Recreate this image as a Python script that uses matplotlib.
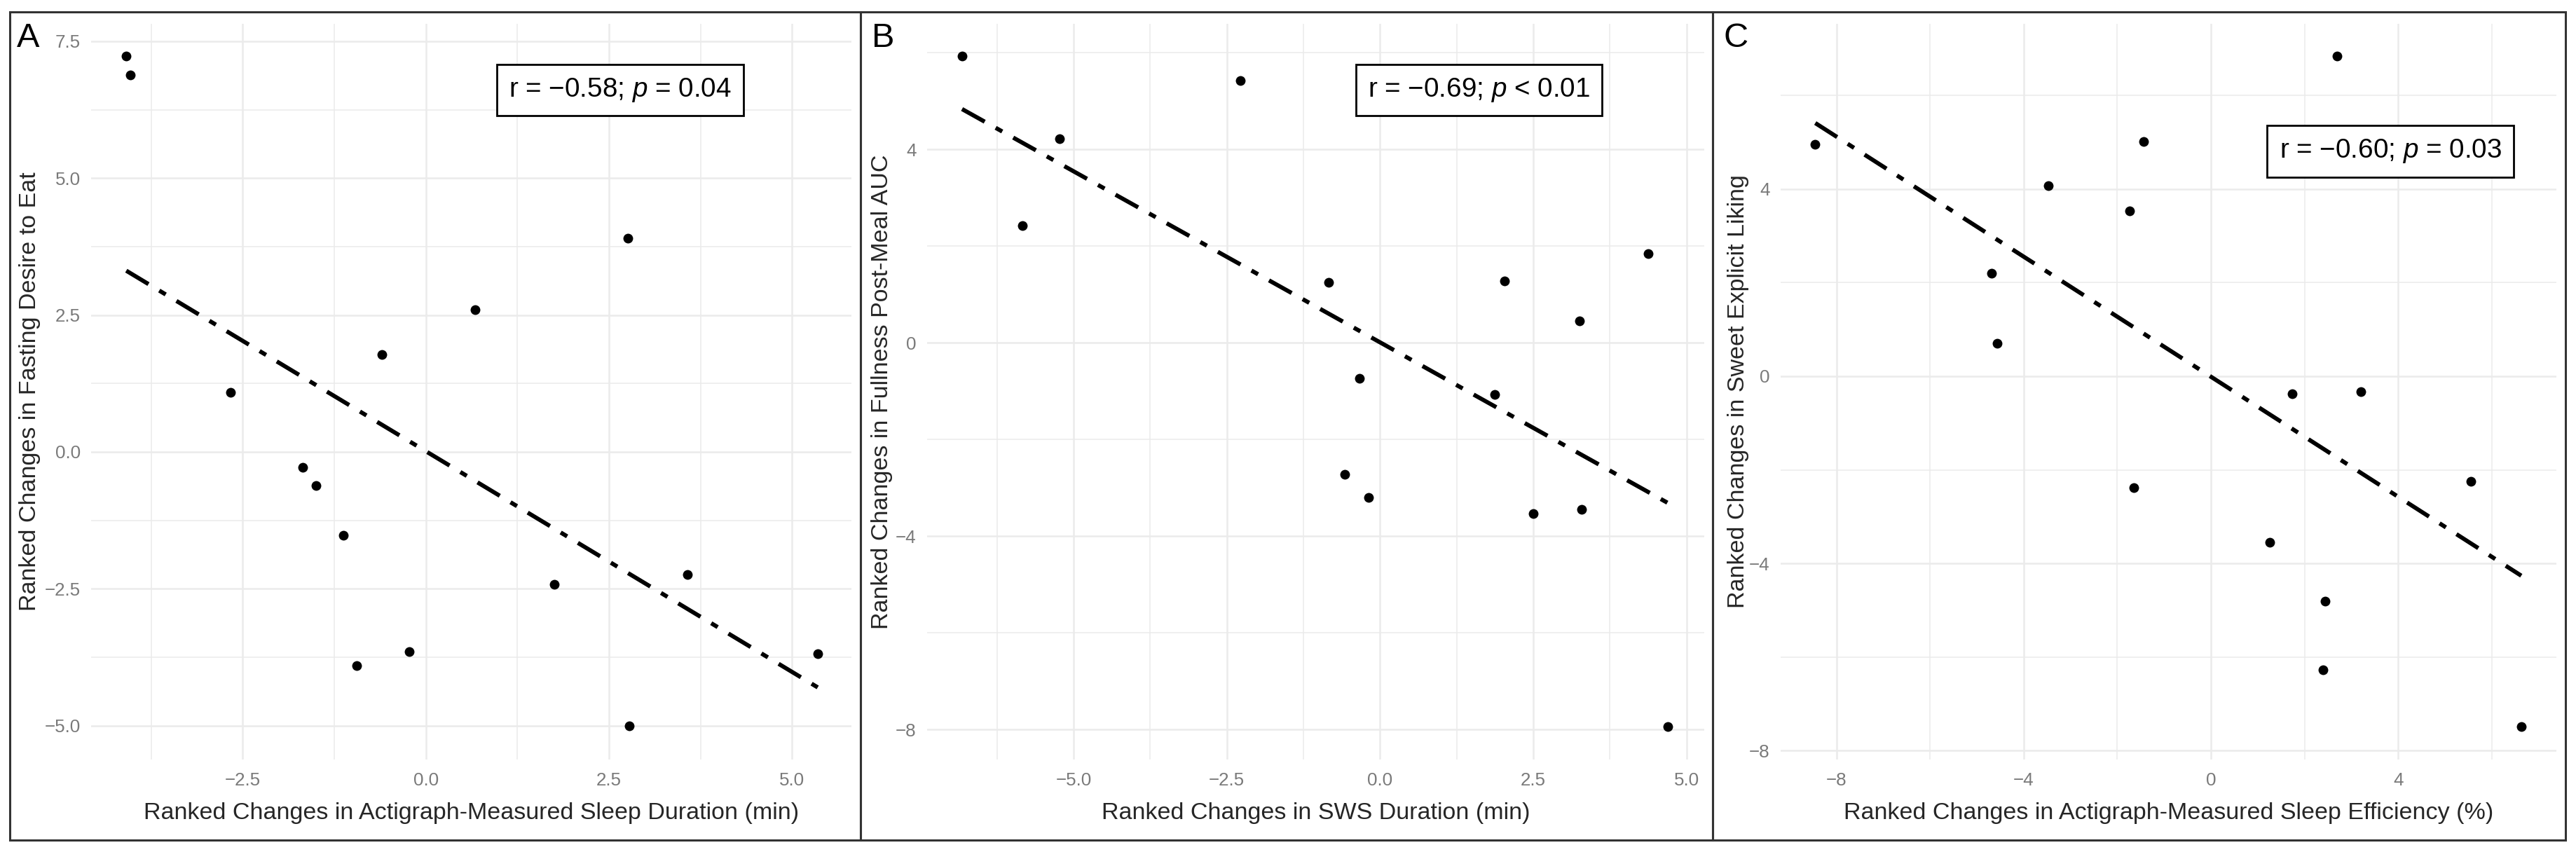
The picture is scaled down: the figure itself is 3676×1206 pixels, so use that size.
import matplotlib
matplotlib.use("Agg")
import matplotlib.pyplot as plt
from matplotlib.patches import Rectangle
import numpy as np

plt.rcParams['font.family'] = ['Liberation Sans', 'DejaVu Sans']
plt.rcParams['mathtext.fontset'] = 'custom'
plt.rcParams['mathtext.rm'] = 'Liberation Sans'
plt.rcParams['mathtext.it'] = 'Liberation Sans:italic'
plt.rcParams['axes.unicode_minus'] = True

# ---- data ----
# Panel A: sleep duration vs fasting desire to eat
a_x = [-4.09, -4.03, -2.67, -0.60, 0.67, 2.76, -1.68, -1.50, -1.13, -0.94, -0.23, 1.75, 3.57, 2.78, 5.35]
a_y = [7.23, 6.89, 1.09, 1.78, 2.60, 3.90, -0.28, -0.61, -1.52, -3.91, -3.65, -2.42, -2.24, -5.00, -3.69]

# Panel B: SWS duration vs fullness post-meal AUC
b_x = [-6.82, -5.23, -5.83, -2.28, -0.84, 2.03, 4.38, 3.26, -0.33, 1.87, -0.58, -0.19, 2.50, 3.29, 4.70]
b_y = [5.93, 4.23, 2.43, 5.43, 1.25, 1.28, 1.84, 0.46, -0.74, -1.07, -2.72, -3.20, -3.53, -3.44, -7.94]

# Panel C: sleep efficiency vs sweet explicit liking
c_x = [-8.45, -3.47, -1.74, -4.69, -4.56, -1.43, 2.69, 1.73, 3.21, -1.64, 1.26, 2.44, 2.40, 5.56, 6.63]
c_y = [4.96, 4.07, 3.53, 2.20, 0.71, 5.02, 6.84, -0.37, -0.33, -2.38, -3.55, -4.80, -6.28, -2.25, -7.48]

x_labels = ["Ranked Changes in Actigraph-Measured Sleep Duration (min)",
            "Ranked Changes in SWS Duration (min)",
            "Ranked Changes in Actigraph-Measured Sleep Efficiency (%)"]
y_labels = ["Ranked Changes in Fasting Desire to Eat",
            "Ranked Changes in Fullness Post-Meal AUC",
            "Ranked Changes in Sweet Explicit Liking"]
stats = ["r = \u22120.58; $p$ = 0.04",
         "r = \u22120.69; $p$ < 0.01",
         "r = \u22120.60; $p$ = 0.03"]
letters = ["A", "B", "C"]

x_major = [[-2.5, 0.0, 2.5, 5.0], [-5.0, -2.5, 0.0, 2.5, 5.0], [-8, -4, 0, 4]]
x_minor = [[-3.75, -1.25, 1.25, 3.75], [-6.25, -3.75, -1.25, 1.25, 3.75], [-6, -2, 2, 6]]
y_major = [[-5.0, -2.5, 0.0, 2.5, 5.0, 7.5], [-8, -4, 0, 4], [-8, -4, 0, 4]]
y_minor = [[-3.75, -1.25, 1.25, 3.75, 6.25], [-6, -2, 2, 6], [-6, -2, 2, 6]]
fmt = ["{:.1f}", "{:.0f}", "{:.0f}"]
x_fmt = ["{:.1f}", "{:.1f}", "{:.0f}"]

W, H = 3676, 1206
fig = plt.figure(figsize=(W / 100, H / 100), dpi=100)

# axes boxes in pixels (left, right), shared top/bottom
ax_px = [(130, 1215), (1323, 2432), (2541, 3648)]
top_px, bot_px = 34, 1084
xlims = [(-4.57, 5.81), (-7.39, 5.29), (-9.19, 7.38)]
ylims = [(-5.62, 7.82), (-8.62, 6.60), (-8.19, 7.53)]
stat_pos = [(0.696, 0.910), (0.710, 0.910), (0.786, 0.827)]
ylab_x = [-0.0724, -0.0505, -0.047]
letter_px = [24, 1244, 2460]
border_px = [(14, 1228), (1228, 2444), (2444, 3661)]

grid_c = '#ebebeb'
data = [(a_x, a_y), (b_x, b_y), (c_x, c_y)]

for i, (xs, ys) in enumerate(data):
    l, r = ax_px[i]
    ax = fig.add_axes([l / W, 1 - bot_px / H, (r - l) / W, (bot_px - top_px) / H])
    ax.set_xlim(*xlims[i])
    ax.set_ylim(*ylims[i])
    for s in ax.spines.values():
        s.set_visible(False)

    # grid (theme_minimal look)
    for v in x_minor[i]:
        ax.axvline(v, color=grid_c, lw=1.1, zorder=0)
    for v in y_minor[i]:
        ax.axhline(v, color=grid_c, lw=1.1, zorder=0)
    for v in x_major[i]:
        ax.axvline(v, color=grid_c, lw=1.8, zorder=0)
    for v in y_major[i]:
        ax.axhline(v, color=grid_c, lw=1.8, zorder=0)

    ax.set_xticks(x_major[i])
    ax.set_xticklabels([x_fmt[i].format(v).replace('-', '\u2212') for v in x_major[i]])
    ax.set_yticks(y_major[i])
    ax.set_yticklabels([fmt[i].format(v).replace('-', '\u2212') for v in y_major[i]])
    ax.tick_params(axis='both', length=0, labelsize=18.7, labelcolor='#7a7a7a')
    ax.tick_params(axis='x', pad=13)
    ax.tick_params(axis='y', pad=11)

    ax.scatter(xs, ys, s=100, color='black', zorder=3, linewidths=0)

    # linear fit, dot-dash
    k, b = np.polyfit(xs, ys, 1)
    xx = np.array([min(xs), max(xs)])
    ax.plot(xx, k * xx + b, color='black', lw=4.3, dashes=(6.2, 3.0, 1.8, 3.0), zorder=2)

    ax.set_xlabel(x_labels[i], fontsize=24.5, color='#262626', va='baseline')
    ax.xaxis.set_label_coords(0.5, -(1169 - bot_px) / (bot_px - top_px))
    ax.set_ylabel(y_labels[i], fontsize=24.5, color='#262626', va='baseline')
    ax.yaxis.set_label_coords(ylab_x[i], 0.5)

    ax.text(stat_pos[i][0], stat_pos[i][1], stats[i], transform=ax.transAxes,
            ha='center', va='center', fontsize=27.8, color='black', zorder=5,
            bbox=dict(boxstyle='square,pad=0.45', fc='white', ec='black', lw=2.0))

    fig.text(letter_px[i] / W, 1 - 67 / H, letters[i], fontsize=35,
             ha='left', va='baseline', color='black')

    x0, x1 = border_px[i]
    fig.add_artist(Rectangle((x0 / W, 1 - 1199 / H), (x1 - x0) / W, (1199 - 17) / H,
                             transform=fig.transFigure, fill=False,
                             ec='#333333', lw=2.2, zorder=10))

fig.savefig("out.png", dpi=100, facecolor='white')
